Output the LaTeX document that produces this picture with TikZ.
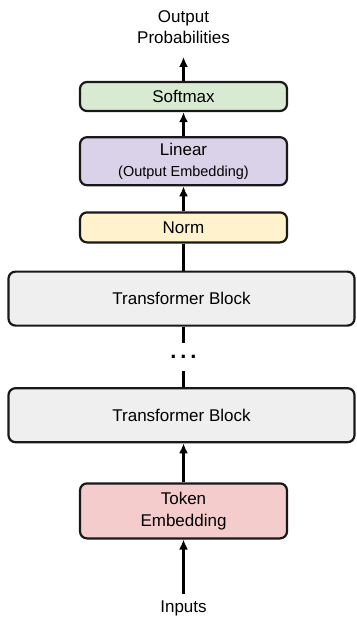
\documentclass[tikz,border=0pt]{standalone}
\usepackage{fontspec}
\setmainfont{Liberation Sans}
\usetikzlibrary{arrows.meta,positioning}

\definecolor{smgreen}{HTML}{D9EAD3}
\definecolor{linpurple}{HTML}{D9D2E9}
\definecolor{normyellow}{HTML}{FFF2CC}
\definecolor{blockgray}{HTML}{EFEFEF}
\definecolor{tokpink}{HTML}{F4CCCC}

\begin{document}
\begin{tikzpicture}[x=1pt,y=1pt,>={Latex[length=10pt,width=9pt]},line width=2.4pt,
		node distance=24pt,
		box/.style={draw=black!90,rounded corners=7pt,line width=2.2pt,align=center,
			minimum width=207pt,font=\fontsize{17}{21.5}\selectfont},
		small/.style={font=\fontsize{14.5}{20}\selectfont},
		label/.style={inner sep=0pt,align=center,font=\fontsize{17}{21}\selectfont}]
	\useasboundingbox (0,0) rectangle (356,-618);
	
	\node[box,fill=smgreen,minimum height=29pt]  (soft) at (183.5,-96.5) {Softmax};
	\node[box,fill=linpurple,minimum height=48pt] (lin) [below=of soft] {Linear\\{\fontsize{14.5}{14.5}\selectfont(Output Embedding)}};
	\node[box,fill=normyellow,minimum height=30pt] (norm) [below=25pt of lin] {Norm};
	\node[box,fill=blockgray,minimum width=346pt,minimum height=54pt] (tb1) [below=27pt of norm,xshift=-2pt] {Transformer Block};
	\node[inner sep=0pt,text height=3pt,text depth=0pt,minimum height=26pt,
		font=\fontsize{22}{22}\bfseries] (dots) [below=16pt of tb1,xshift=2pt] {.\hspace{3.9pt}.\hspace{3.9pt}.};
	\node[box,fill=blockgray,minimum width=346pt,minimum height=54pt] (tb2) [below=16pt of dots,xshift=-2pt] {Transformer Block};
	\node[box,fill=tokpink,minimum height=55pt] (tok) [below=39pt of tb2,xshift=2pt] {Token\\Embedding};
	\node[label] (in) [below=60pt of tok] {Inputs};
	\node[label] (out) [above=36pt of soft] {Output\\Probabilities};
	
	\path[->] (lin) edge (soft)
		(norm) edge (lin)
		(tok) edge (tok |- tb2.south)
		(in) edge[shorten <=6pt] (tok)
		(soft) edge[shorten >=12pt] (out);
	\path (norm) edge (norm |- tb1.north)
		(dots) edge (dots |- tb1.south)
		(dots) edge (dots |- tb2.north);
\end{tikzpicture}
\end{document}
